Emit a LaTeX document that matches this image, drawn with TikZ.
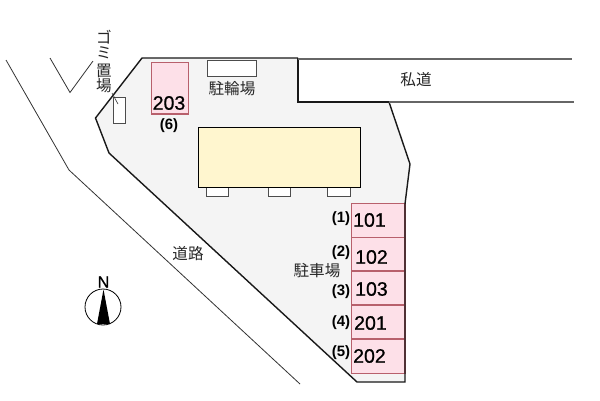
\documentclass[tikz,border=0pt]{standalone}
\usepackage{fontspec}
\setmainfont{Liberation Sans}
\newfontfamily\jp{Noto Sans CJK JP}
\newfontfamily\numf[FakeBold=0.8]{Liberation Sans}
\definecolor{sitefill}{HTML}{F4F4F4}
\definecolor{pinkfill}{HTML}{FDE0E8}
\definecolor{pinkline}{HTML}{B8606C}
\definecolor{bldfill}{HTML}{FFF6CF}
\tikzset{
  x=1pt,y=-1pt,
  boundary/.style={draw=black!90,line width=1.4pt,line join=miter},
  roadline/.style={draw=black!80,line width=0.8pt},
  whitebox/.style={draw=black!70,fill=white,line width=0.9pt},
  lot/.style={draw=pinkline,fill=pinkfill,line width=1.2pt},
  lotnum/.style={font=\numf\fontsize{19.5}{20}\selectfont,inner sep=0pt,text=black},
  lotref/.style={font=\bfseries\fontsize{15}{15}\selectfont,inner sep=0pt,text=black},
  jplabel/.style={font=\jp\fontsize{15.6}{16}\selectfont,inner sep=0pt,text=black!85},
}
\begin{document}
\begin{tikzpicture}
\useasboundingbox (0,0) rectangle (600,400);
\fill[white] (0,0) rectangle (600,400);
% site
\fill[sitefill] (142,58) -- (298,58) -- (298,102) -- (389,102) -- (410,164) -- (405,204) -- (405,382) -- (357,382) -- (109,153) -- (95.5,118) -- cycle;
% parking lots
\foreach \ya/\yb in {203.5/237.5,237.5/271,271/305,305/339,339/373.5}
  \draw[lot] (351.5,\ya) rectangle (405,\yb);
% outline
\draw[boundary] (298,58) -- (142,58) -- (95.5,118) -- (109,153) -- (357,382) -- (405,382) -- (405,204) -- (410,164) -- (389,102);
\draw[boundary] (389,102) -- (298,102) -- (298,58);
\draw[roadline,draw=black!60,line width=1.2pt] (298,59) -- (572,59);
\draw[roadline,draw=black!60,line width=1.1pt] (389,102) -- (574,102);
% roads
\draw[roadline] (6,60) -- (69,170) -- (300,384);
\draw[roadline] (50,58) -- (70,92.5) -- (93,61);
% small boxes
\draw[whitebox] (113,97.5) rectangle (125,123);
\draw[whitebox] (207,60.5) rectangle (256,76);
\draw[lot] (151.5,62.5) rectangle (188.5,114);
% building
\draw[whitebox] (206.5,187) rectangle (228.5,196);
\draw[whitebox] (268.5,187) rectangle (290.5,196);
\draw[whitebox] (327.5,187) rectangle (350,196);
\draw[draw=black,fill=bldfill,line width=0.8pt] (198,127) rectangle (360.5,187);
% leader
\coordinate (ldA) at (112,93);
\coordinate (ldB) at (118,104);
\draw[draw=black!80,line width=0.6pt] (ldA) -- (ldB);
% labels
\node[jplabel] (gomi) at (104,37) {ゴ};
\node[jplabel] (mi) at (104,53) {ミ};
\node[jplabel] (oki) at (104,71) {置};
\node[jplabel] (ba) at (104,86) {場};
\node[jplabel] (bike) at (232,88.5) {駐輪場};
\node[jplabel] (priv) at (416,80) {私道};
\node[jplabel] (road) at (188,253.5) {道路};
\node[jplabel] (park) at (317,271) {駐車場};
\node[lotnum] (n203) at (169,103) {203};
\node[lotref] (r6) at (169,125.5) {(6)};
\node[lotnum,anchor=west] (n101) at (353,220) {101};
\node[lotnum,anchor=west] (n102) at (355,257) {102};
\node[lotnum,anchor=west] (n103) at (355,289) {103};
\node[lotnum,anchor=west] (n201) at (354,323) {201};
\node[lotnum,anchor=west] (n202) at (353,356) {202};
\node[lotref] (r1) at (341,219) {(1)};
\node[lotref] (r2) at (341,253) {(2)};
\node[lotref] (r3) at (341,292) {(3)};
\node[lotref] (r4) at (341,323) {(4)};
\node[lotref] (r5) at (341,353) {(5)};
% north
\draw[draw=black,line width=0.8pt] (103,307) circle (18);
\fill[black] (103.5,289.5) -- (110,324) -- (97,324) -- cycle;
\node[font=\numf\fontsize{16}{16}\selectfont,inner sep=0pt] (north) at (103.5,282) {N};
\end{tikzpicture}
\end{document}
